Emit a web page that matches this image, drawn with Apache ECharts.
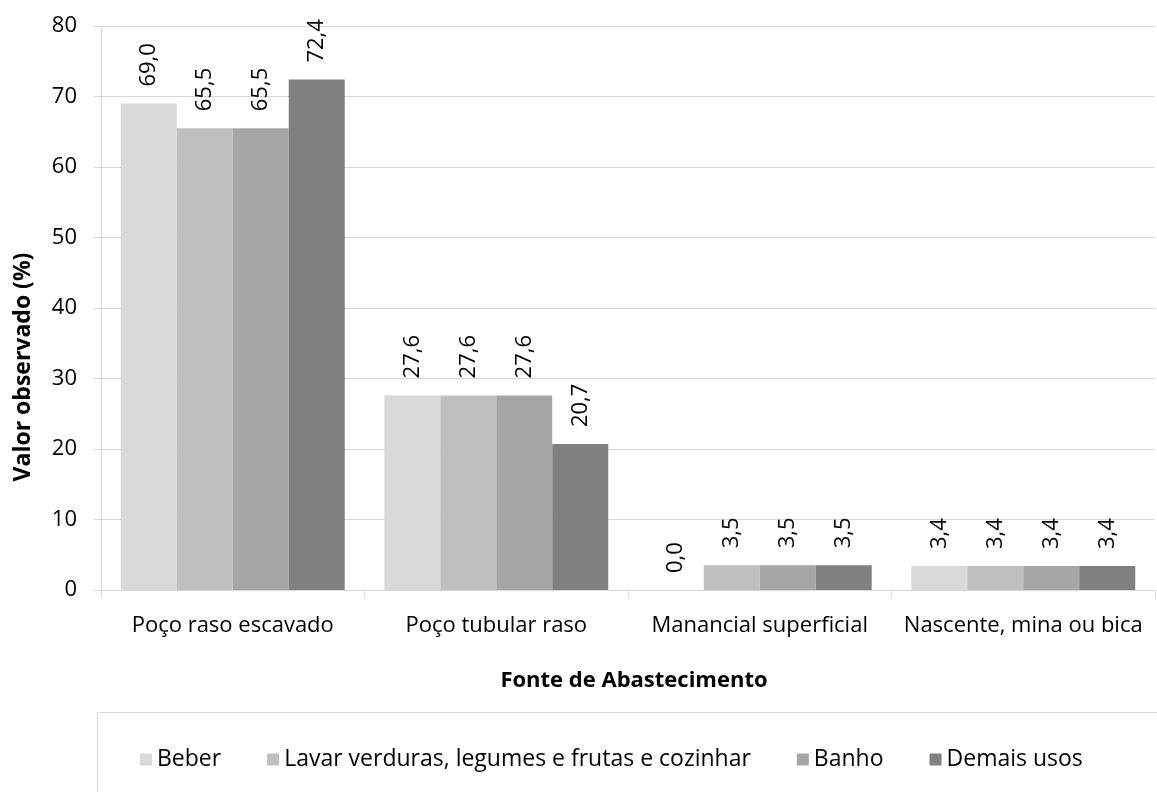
<!DOCTYPE html>
<html><head><meta charset="utf-8">
<script src="https://cdn.jsdelivr.net/npm/echarts@6/dist/echarts.min.js"></script>
<style>html,body{margin:0;padding:0;background:#fff}#c{width:1157px;height:792px}</style>
</head><body><div id="c"></div>
<script>
const categories = ['Poço raso escavado', 'Poço tubular raso', 'Manancial superficial', 'Nascente, mina ou bica'];
const seriesNames = ['Beber', 'Lavar verduras, legumes e frutas e cozinhar', 'Banho', 'Demais usos'];
const beber = [69.0, 27.6, 0.0, 3.4];
const lavar = [65.5, 27.6, 3.5, 3.4];
const banho = [65.5, 27.6, 3.5, 3.4];
const demais = [72.4, 20.7, 3.5, 3.4];
const yTicks = [0, 10, 20, 30, 40, 50, 60, 70, 80];
const colors = ['#D9D9D9', '#BFBFBF', '#A6A6A6', '#808080'];
const FONT = 'Open Sans';

const chart = echarts.init(document.getElementById('c'), null, {renderer: 'canvas'});
const values = [beber, lavar, banho, demais];
const series = values.map((d, i) => ({
  name: seriesNames[i],
  type: 'bar',
  data: d,
  barGap: '0%',
  barCategoryGap: '15%',
  itemStyle: {color: colors[i]},
  label: {
    show: true, position: 'top', rotate: 90, distance: 17,
    align: 'left', verticalAlign: 'middle',
    fontFamily: FONT, fontSize: 22, color: '#000',
    formatter: p => p.value.toFixed(1).replace('.', ',')
  }
}));
chart.setOption({
  animation: false,
  color: colors,
  textStyle: {fontFamily: FONT},
  grid: {left: 101, right: 2, top: 26, bottom: 202, containLabel: false},
  legend: {
    left: 140, top: 748, icon: 'rect', itemWidth: 12, itemHeight: 12, itemGap: 46, padding: 0,
    textStyle: {fontFamily: FONT, fontSize: 23, color: '#000', padding: [0, 0, 0, 0]},
    data: seriesNames
  },
  graphic: [{type: 'rect', shape: {x: 97.5, y: 712.5, width: 1100, height: 120}, style: {fill: 'none', stroke: '#D9D9D9', lineWidth: 1}}],
  xAxis: {
    type: 'category', data: categories,
    name: 'Fonte de Abastecimento', nameLocation: 'middle', nameGap: 91,
    nameTextStyle: {fontFamily: FONT, fontSize: 22, fontWeight: 'bold', color: '#000', verticalAlign: 'middle', padding: [0, 0, 0, 12]},
    axisLine: {lineStyle: {color: '#D9D9D9'}},
    axisTick: {show: true, length: 8, lineStyle: {color: '#D9D9D9'}},
    axisLabel: {interval: 0, fontFamily: FONT, fontSize: 22, color: '#000', margin: 25}
  },
  yAxis: {
    type: 'value', min: 0, max: 80, interval: 10,
    name: 'Valor observado (%)', nameLocation: 'middle', nameGap: 66, nameRotate: 90,
    nameTextStyle: {fontFamily: FONT, fontSize: 23, fontWeight: 'bold', color: '#000', padding: [0, 118, 0, 0]},
    axisLine: {show: true, lineStyle: {color: '#D9D9D9'}},
    axisTick: {show: true, length: 8, lineStyle: {color: '#D9D9D9'}},
    splitLine: {lineStyle: {color: '#D9D9D9'}},
    axisLabel: {fontFamily: FONT, fontSize: 22, color: '#000', margin: 24,
      formatter: v => yTicks.includes(v) ? String(v) : ''}
  },
  series: series
});
</script></body></html>
